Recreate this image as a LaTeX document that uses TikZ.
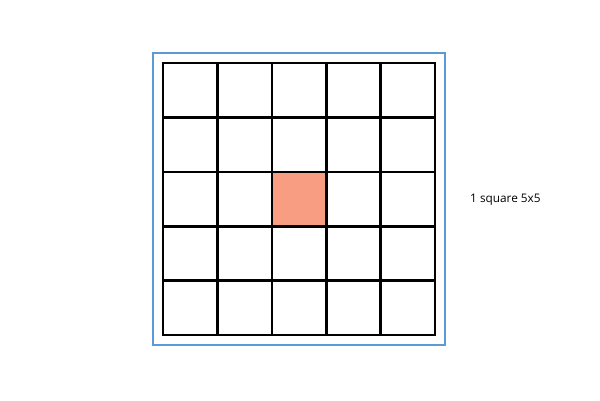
\documentclass[tikz,border=0pt]{standalone}
\usepackage{fontspec}
\setmainfont{Open Sans}
\usepackage{tikz}
\usetikzlibrary{fit}
\definecolor{gridsalmon}{HTML}{F99D82}
\definecolor{frameblue}{HTML}{5B9BD5}
\tikzset{
  cell/.style={draw=black,line width=2.6pt,minimum size=54.4pt,inner sep=0pt,outer sep=0pt},
  hotcell/.style={cell,fill=gridsalmon},
  outerframe/.style={draw=frameblue,line width=1.5pt,inner sep=10pt},
  caption/.style={font=\fontsize{11.8}{14}\selectfont,anchor=west,inner sep=0pt}
}
\begin{document}
\begin{tikzpicture}[x=1pt,y=-1pt]
    \fill[white] (0,0) rectangle (600,400);
    \foreach \i in {0,...,4}{
      \foreach \j in {0,...,4}{
        \node[cell] (c\i\j) at ({163+54.4*(\i+0.5)},{63+54.4*(\j+0.5)}) {};
      }
    }
    \node[hotcell] (centre) at (c22) {};
    \node[outerframe,fit=(c00)(c44)] (box) {};
    \node[caption] (label) at (470,200) {1 square 5x5};
  \end{tikzpicture}
\end{document}
